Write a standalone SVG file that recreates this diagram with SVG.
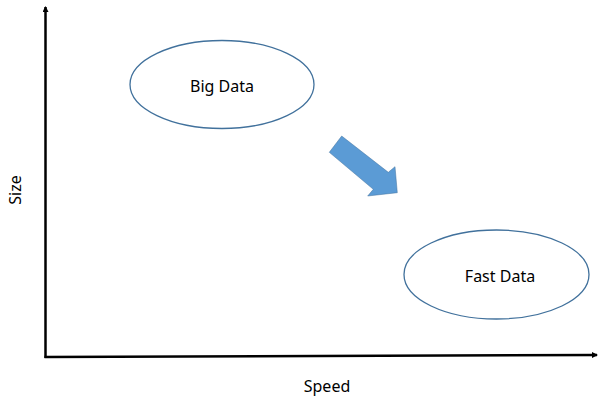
<svg xmlns="http://www.w3.org/2000/svg" width="598" height="401" viewBox="0 0 598 401">
<style>
text{font-family:"Noto Sans","Open Sans","Liberation Sans",sans-serif;font-size:16px;fill:#000}
.node ellipse{fill:#fff;stroke:#41719c;stroke-width:1.3}
.axis{stroke:#000;stroke-width:2.5;fill:none}
</style>
<defs>
<marker id="ah" markerWidth="6" markerHeight="6" refX="5" refY="3" orient="auto" markerUnits="userSpaceOnUse">
<path d="M0,0 L6,3 L0,6 z" fill="#000"/>
</marker>
</defs>
<rect width="598" height="401" fill="#fff"/>
<g id="connectors">
<line class="axis" x1="45.5" y1="358" x2="45.5" y2="7" marker-end="url(#ah)"/>
<line class="axis" x1="44.5" y1="357" x2="597" y2="355" marker-end="url(#ah)"/>
<polygon points="341.7,136 388.3,172.3 395,166.7 397.3,192.7 367.7,196 373.3,189.3 329.3,152.3" fill="#5b9bd5" stroke="#41719c" stroke-width="0.5"/>
</g>
<g id="big-data" class="node">
<ellipse cx="222" cy="84.5" rx="92" ry="44"/>
<text x="222" y="92" text-anchor="middle">Big Data</text>
</g>
<g id="fast-data" class="node">
<ellipse cx="496.5" cy="274.5" rx="92.5" ry="44.5"/>
<text x="500" y="282" text-anchor="middle">Fast Data</text>
</g>
<text x="21" y="190" text-anchor="middle" transform="rotate(-90 21 190)">Size</text>
<text x="327" y="392" text-anchor="middle">Speed</text>
</svg>
